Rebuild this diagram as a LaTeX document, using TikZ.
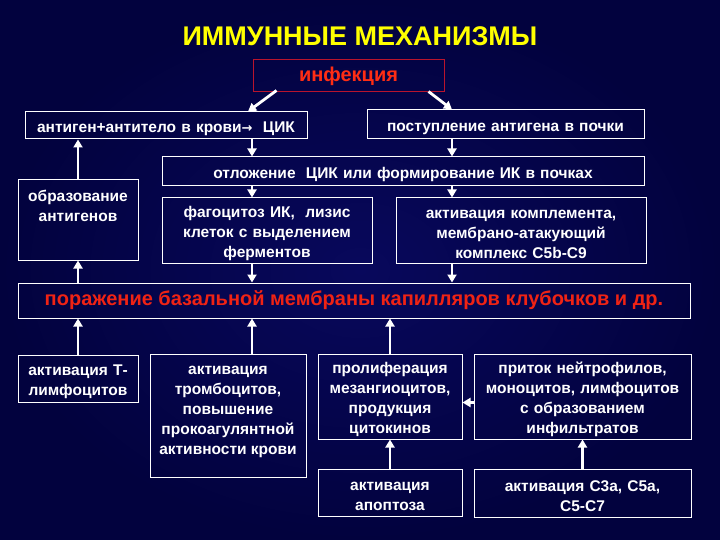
\documentclass[tikz,border=0pt]{standalone}
\usepackage{fontspec}
\setmainfont{Liberation Sans}
\newfontfamily\arrfont{DejaVu Sans}
\usetikzlibrary{arrows.meta,calc}
\definecolor{bgblue}{RGB}{8,8,92}
\definecolor{bgdark}{RGB}{2,2,62}
\definecolor{titleyellow}{RGB}{255,255,0}
\definecolor{infred}{RGB}{255,45,20}
\definecolor{infborder}{RGB}{185,20,45}
\definecolor{damred}{RGB}{240,35,20}

\begin{document}
\begin{tikzpicture}[x=1pt, y=1pt,
    box/.style={draw=white, line width=1pt, text=white, align=center, inner sep=2pt,
      font=\fontsize{15.5}{20}\bfseries, execute at begin node={\rule{0pt}{17pt}}},
    lbl/.style={text=white, align=center, inner sep=2pt, font=\fontsize{15.5}{20}\bfseries},
    arr/.style={draw=white, line width=2.8pt, -{Triangle[width=9pt,length=8pt]}}]
    % Sfondo
    \shade[inner color=bgblue, outer color=bgdark] (0,0) rectangle (720,-540);
    \useasboundingbox (0,0) rectangle (720,-540);

    % Titolo
    \node[text=titleyellow, font=\fontsize{27}{30}\bfseries] (title) at (360,-36) {ИММУННЫЕ МЕХАНИЗМЫ};

    % Riga superiore
    \node[draw=infborder, line width=1pt, minimum width=191, minimum height=32, text=infred,
      font=\fontsize{20}{22}\bfseries] (inf) at (348.5,-76) {инфекция};
    \node[box, text width=278, minimum height=27] (A) at (166,-125.5)
      {антиген+антитело в крови{\arrfont\fontsize{13}{14}\selectfont →}\ \ ЦИК};
    \node[box, text width=273, minimum height=29] (B) at (505.5,-124.5) {поступление антигена в почки};
    \node[box, text width=478, minimum height=29] (C) at (403,-171.5)
      {отложение \ ЦИК или формирование ИК в почках};

    % Riga centrale
    \node[box, minimum width=120, minimum height=80,
      label={[lbl, anchor=north, yshift=-8pt]north:{образование\\антигенов}}] (obr) at (78,-220) {};
    \node[box, text width=206, minimum height=65] (fag) at (267,-230.5)
      {фагоцитоз ИК, \ лизис\\клеток с выделением\\ферментов};
    \node[box, text width=246, minimum height=65] (kom) at (521,-230.5)
      {активация комплемента,\\мембрано-атакующий\\комплекс C5b-C9};
    \node[draw=white, line width=1pt, minimum width=672, minimum height=35, text=damred,
      font=\fontsize{20}{22}\bfseries] (por) at (354,-300.5)
      {поражение базальной мембраны капилляров клубочков и др.};

    % Riga inferiore
    \node[box, text width=116, minimum height=47] (tl) at (78,-378.5) {активация Т-\\лимфоцитов};
    \node[box, minimum width=156, minimum height=123,
      label={[lbl, anchor=north, yshift=-10pt]north:{активация\\тромбоцитов,\\повышение\\прокоагулянтной\\активности крови}}]
      (tromb) at (228,-415.5) {};
    \node[box, text width=140, minimum height=85] (prol) at (390,-396.5)
      {пролиферация\\мезангиоцитов,\\продукция\\цитокинов};
    \node[box, text width=213, minimum height=85] (prit) at (582.5,-396.5)
      {приток нейтрофилов,\\моноцитов, лимфоцитов\\с образованием\\инфильтратов};
    \node[box, text width=140, minimum height=47] (apop) at (390,-492.5) {активация\\апоптоза};
    \node[box, text width=213, minimum height=48] (c3a) at (582.5,-493) {активация C3a, C5a,\\C5-C7};

    % Colonne delle frecce
    \coordinate (xl) at (252,0);
    \coordinate (xr) at (452,0);

    % Frecce
    \draw[arr] ([xshift=24pt,yshift=2pt]inf.south west) -- ([xshift=-4pt]A.north -| xl);
    \draw[arr] ([xshift=-16pt,yshift=1pt]inf.south east) -- (B.north -| xr);
    \draw[arr] (A.south -| xl) -- (C.north -| xl);
    \draw[arr] (B.south -| xr) -- (C.north -| xr);
    \draw[arr] (C.south -| xl) -- (fag.north -| xl);
    \draw[arr] (C.south -| xr) -- (kom.north -| xr);
    \draw[arr] (fag.south -| xl) -- (por.north -| xl);
    \draw[arr] (kom.south -| xr) -- (por.north -| xr);
    \draw[arr] (obr.north) -- (A.south -| obr.north);
    \draw[arr] (por.north -| obr.south) -- (obr.south);
    \draw[arr] (tl.north) -- (por.south -| tl.north);
    \draw[arr] (tromb.north -| xl) -- (por.south -| xl);
    \draw[arr] (prol.north) -- (por.south -| prol.north);
    \draw[arr] (apop.north) -- (prol.south);
    \draw[arr] (c3a.north) -- (prit.south);
    \draw[arr] ([yshift=-6pt]prit.west) -- ([yshift=-6pt]prol.east);
\end{tikzpicture}
\end{document}
